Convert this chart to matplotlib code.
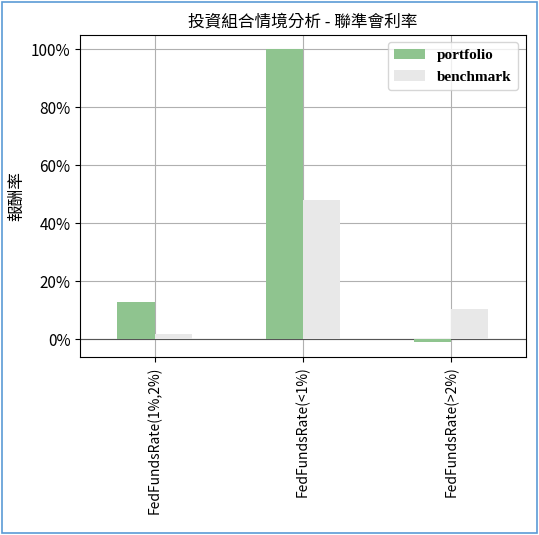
import matplotlib
matplotlib.use("Agg")
import matplotlib.pyplot as plt
import numpy as np
from matplotlib.ticker import PercentFormatter

plt.rcParams['font.family'] = ['Noto Sans CJK TC', 'DejaVu Sans']

categories = ['FedFundsRate(1%,2%)', 'FedFundsRate(<1%)', 'FedFundsRate(>2%)']
portfolio = [0.13, 1.00, -0.01]
benchmark = [0.018, 0.48, 0.105]

fig = plt.figure(figsize=(5.39, 5.35), dpi=100)
ax = fig.add_axes([0.149, 0.333, 0.826, 0.602])
x = np.arange(len(categories))
w = 0.25
ax.bar(x - w/2, portfolio, w, color='#8fc48f', label='portfolio', zorder=3)
ax.bar(x + w/2, benchmark, w, color='#e8e8e8', label='benchmark', zorder=3)
ax.set_xticks(x)
ax.set_xticklabels(categories, rotation=90, fontsize=10)
ax.set_xlim(-0.5, 2.5)
ax.set_ylim(-0.06, 1.05)
ax.yaxis.set_major_formatter(PercentFormatter(1.0, decimals=0))
ax.tick_params(axis='y', labelsize=11)
ax.grid(True, color='#b0b0b0', linewidth=0.8, zorder=0)
ax.axhline(0, color='#555555', linewidth=0.8, zorder=2)
ax.set_ylabel('報酬率', fontsize=12)
ax.set_title('投資組合情境分析 - 聯準會利率', fontsize=12)
ax.legend(loc='upper right', prop={'family': 'Liberation Serif', 'weight': 'bold', 'size': 11})
fig.patches.append(plt.Rectangle((0.003, 0.003), 0.994, 0.994, transform=fig.transFigure,
                                 fill=False, edgecolor='#5b9bd5', linewidth=1.2))
fig.savefig('out.png', dpi=100)
